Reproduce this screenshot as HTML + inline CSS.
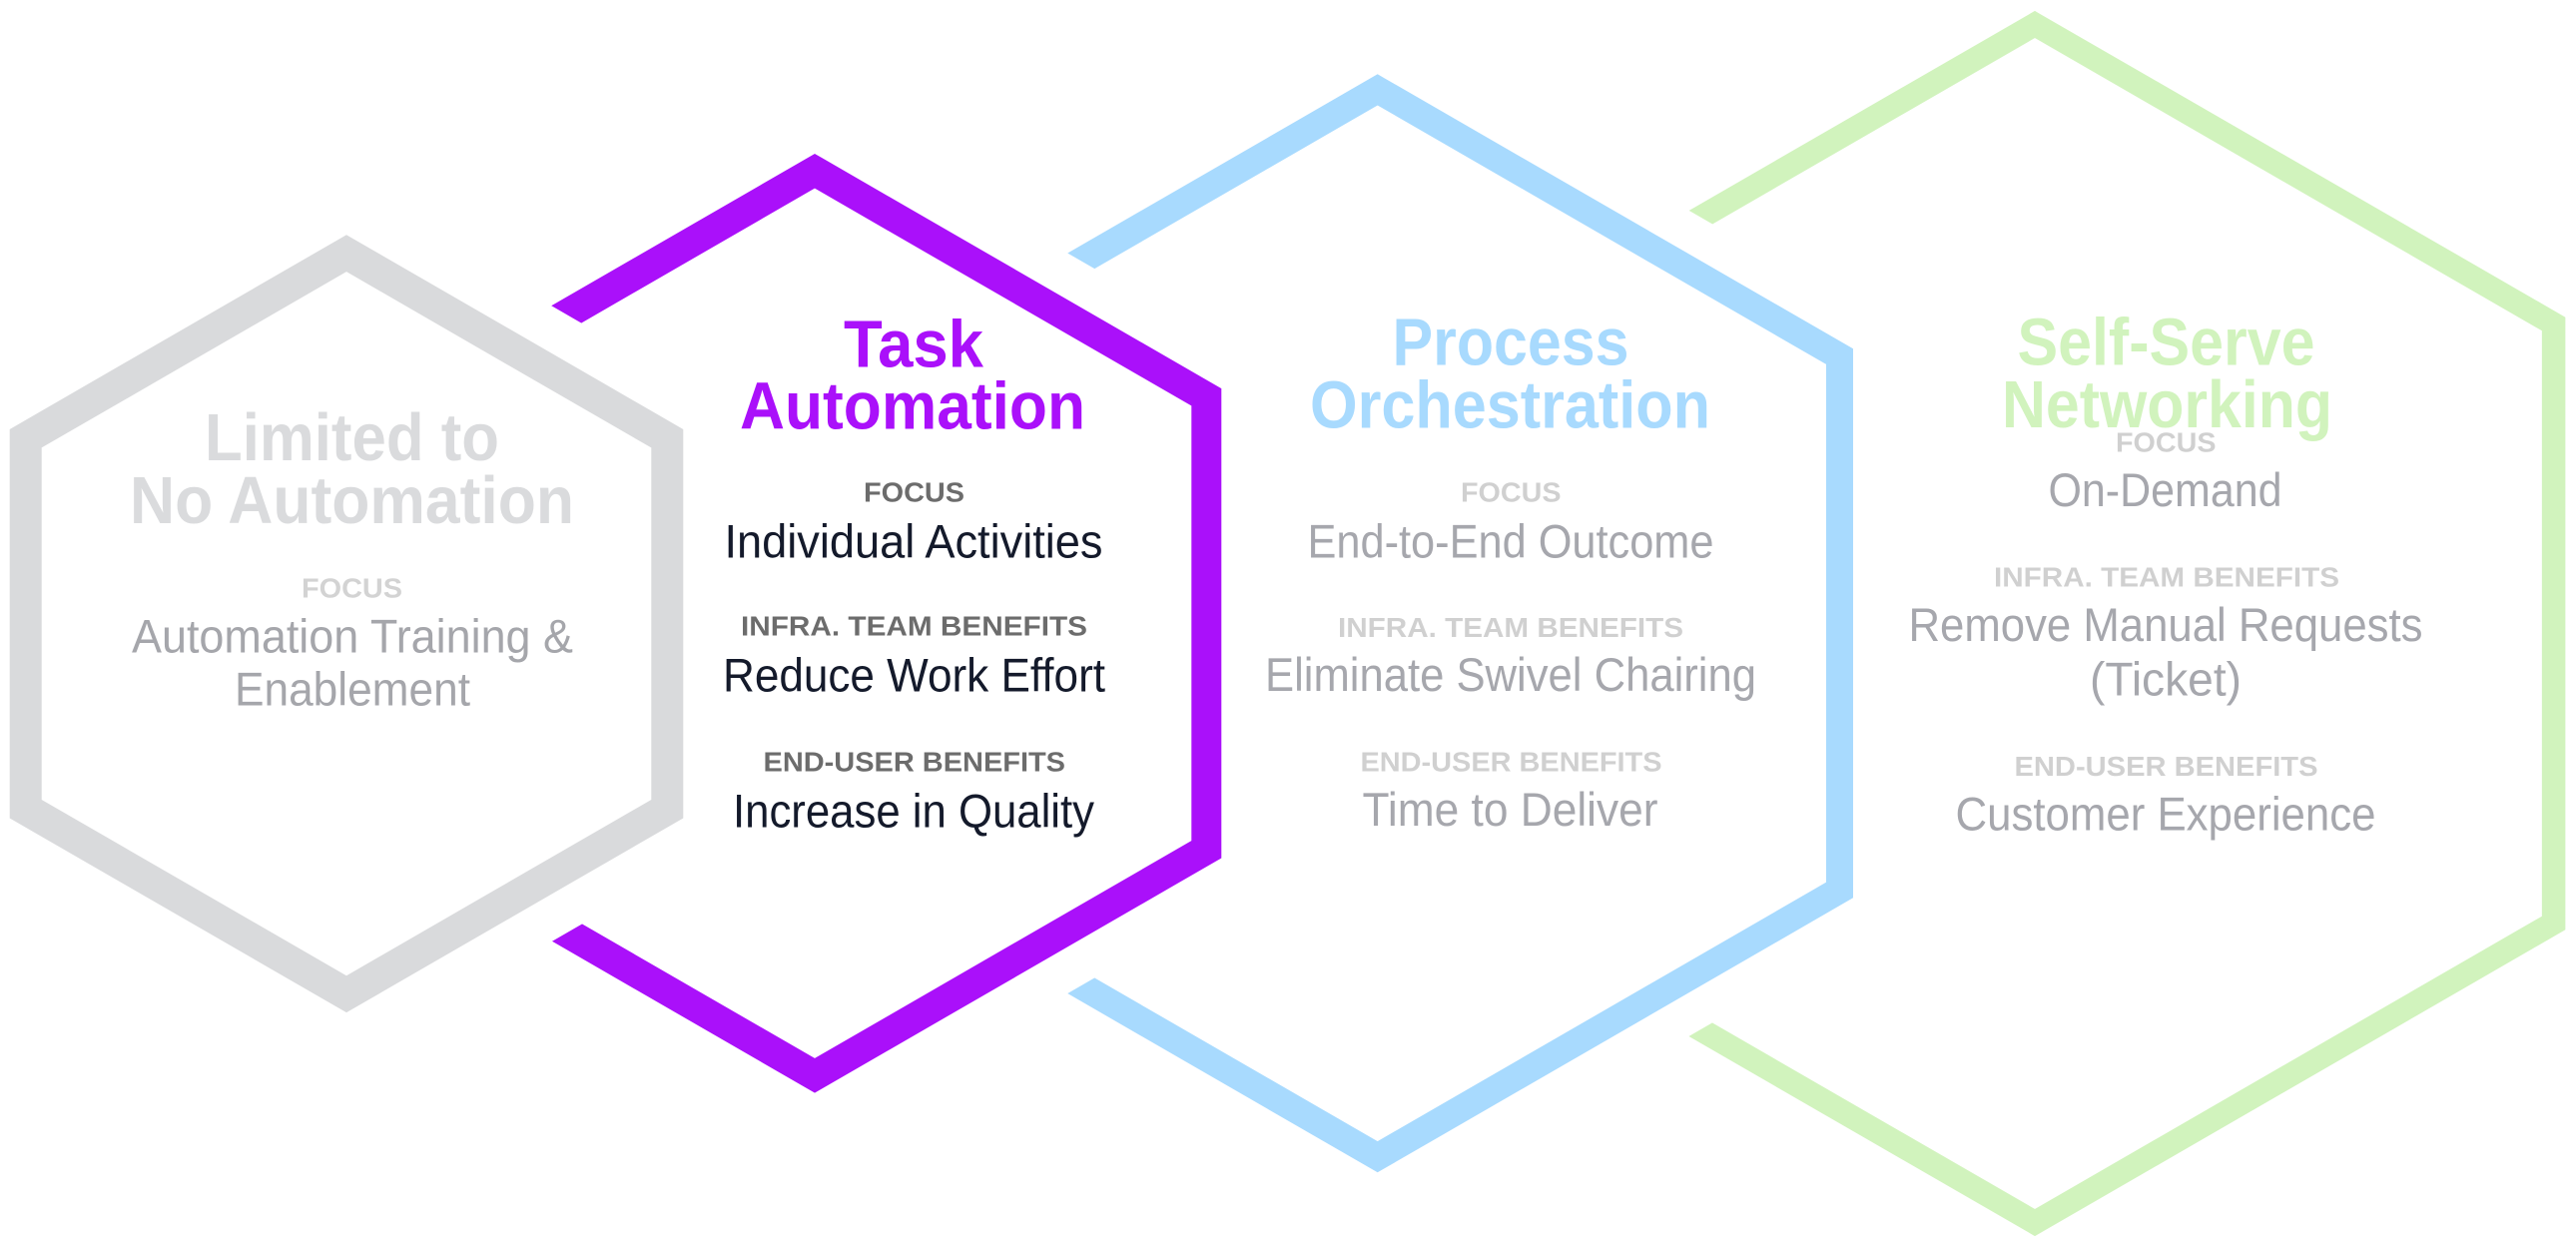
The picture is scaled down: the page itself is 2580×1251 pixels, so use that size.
<!DOCTYPE html>
<html>
<head>
<meta charset="utf-8">
<style>
  html, body { margin: 0; padding: 0; background: #ffffff; }
  body { width: 2580px; height: 1251px; overflow: hidden; }
  svg { display: block; }
  text { font-family: "Liberation Sans", Arial, sans-serif; }
  .t { font-size: 67px; font-weight: bold; }
  .l { font-size: 28px; font-weight: bold; }
  .b { font-size: 47px; font-weight: normal; }
</style>
</head>
<body>
<svg width="2580" height="1251" viewBox="0 0 2580 1251" xmlns="http://www.w3.org/2000/svg">
  <!-- Green hexagon (back) -->
  <polygon points="2038,24.5 2557.6,324.5 2557.6,924.5 2038,1224.5 1518.4,924.5 1518.4,324.5"
           fill="none" stroke="#d1f3bd" stroke-width="23.5" stroke-linejoin="miter"/>
  <!-- Blue knockout -->
  <polygon points="1379.7,30.8 1893.7,327.55 1893.7,921.05 1379.7,1218.3 865.7,921.05 865.7,327.55" fill="#ffffff"/>
  <!-- Blue hexagon -->
  <polygon points="1379.7,89.9 1842.5,357.1 1842.5,891.5 1379.7,1158.7 916.9,891.5 916.9,357.1"
           fill="none" stroke="#a8dafe" stroke-width="27" stroke-linejoin="miter"/>
  <!-- Purple knockout -->
  <polygon points="816,107.3 1263.7,365.8 1263.7,882.8 816,1141.3 368.3,882.8 368.3,365.8" fill="#ffffff"/>
  <!-- Purple hexagon -->
  <polygon points="816,171.3 1208.3,397.8 1208.3,850.8 816,1077.3 423.7,850.8 423.7,397.8"
           fill="none" stroke="#aa10fa" stroke-width="30" stroke-linejoin="miter"/>
  <!-- Gray knockout -->
  <polygon points="347,187.7 725.4,406.2 725.4,843.2 347,1061.7 -31.4,843.2 -31.4,406.2" fill="#ffffff"/>
  <!-- Gray hexagon -->
  <polygon points="347,253.7 668.3,439.2 668.3,810.2 347,995.7 25.7,810.2 25.7,439.2"
           fill="none" stroke="#d9dadc" stroke-width="32" stroke-linejoin="miter"/>

  <!-- Gray texts -->
  <text class="t" x="205" y="461" textLength="295" lengthAdjust="spacingAndGlyphs" fill="#dadbdd">Limited to</text>
  <text class="t" x="130" y="524" textLength="445" lengthAdjust="spacingAndGlyphs" fill="#dadbdd">No Automation</text>
  <text class="l" x="302" y="598.3" textLength="101" lengthAdjust="spacingAndGlyphs" fill="#d3d3d3">FOCUS</text>
  <text class="b" x="132" y="653.3" textLength="442" lengthAdjust="spacingAndGlyphs" fill="#a5a6ab">Automation Training &amp;</text>
  <text class="b" x="235" y="706.7" textLength="236" lengthAdjust="spacingAndGlyphs" fill="#a5a6ab">Enablement</text>

  <!-- Purple texts -->
  <text class="t" x="845" y="367.3" textLength="140" lengthAdjust="spacingAndGlyphs" fill="#aa10fa">Task</text>
  <text class="t" x="741" y="429.3" textLength="346" lengthAdjust="spacingAndGlyphs" fill="#aa10fa">Automation</text>
  <text class="l" x="865" y="502.3" textLength="101" lengthAdjust="spacingAndGlyphs" fill="#6c6c6c">FOCUS</text>
  <text class="b" x="725.5" y="558.3" textLength="379" lengthAdjust="spacingAndGlyphs" fill="#141a2b">Individual Activities</text>
  <text class="l" x="742" y="636.7" textLength="347" lengthAdjust="spacingAndGlyphs" fill="#6c6c6c">INFRA. TEAM BENEFITS</text>
  <text class="b" x="724" y="692.7" textLength="383" lengthAdjust="spacingAndGlyphs" fill="#141a2b">Reduce Work Effort</text>
  <text class="l" x="764.5" y="772.7" textLength="302.5" lengthAdjust="spacingAndGlyphs" fill="#6c6c6c">END-USER BENEFITS</text>
  <text class="b" x="734" y="828.3" textLength="362" lengthAdjust="spacingAndGlyphs" fill="#141a2b">Increase in Quality</text>

  <!-- Blue texts -->
  <text class="t" x="1394.5" y="365.6" textLength="237" lengthAdjust="spacingAndGlyphs" fill="#a8dafe">Process</text>
  <text class="t" x="1312" y="428.7" textLength="401" lengthAdjust="spacingAndGlyphs" fill="#a8dafe">Orchestration</text>
  <text class="l" x="1463" y="502.7" textLength="100.5" lengthAdjust="spacingAndGlyphs" fill="#d0d0d0">FOCUS</text>
  <text class="b" x="1309.5" y="558.5" textLength="407" lengthAdjust="spacingAndGlyphs" fill="#a6a7ad">End-to-End Outcome</text>
  <text class="l" x="1340" y="637.8" textLength="346" lengthAdjust="spacingAndGlyphs" fill="#d0d0d0">INFRA. TEAM BENEFITS</text>
  <text class="b" x="1267" y="691.8" textLength="492" lengthAdjust="spacingAndGlyphs" fill="#a6a7ad">Eliminate Swivel Chairing</text>
  <text class="l" x="1362.5" y="772.5" textLength="302" lengthAdjust="spacingAndGlyphs" fill="#d0d0d0">END-USER BENEFITS</text>
  <text class="b" x="1364.5" y="827.2" textLength="296" lengthAdjust="spacingAndGlyphs" fill="#a6a7ad">Time to Deliver</text>

  <!-- Green texts -->
  <text class="t" x="2020.5" y="365.6" textLength="298" lengthAdjust="spacingAndGlyphs" fill="#d1f3bd">Self-Serve</text>
  <text class="t" x="2005" y="428" textLength="331" lengthAdjust="spacingAndGlyphs" fill="#d1f3bd">Networking</text>
  <text class="l" x="2119" y="452.6" textLength="100.5" lengthAdjust="spacingAndGlyphs" fill="#d0d0d0">FOCUS</text>
  <text class="b" x="2051.5" y="507" textLength="234" lengthAdjust="spacingAndGlyphs" fill="#a6a7ad">On-Demand</text>
  <text class="l" x="1997" y="587.6" textLength="346" lengthAdjust="spacingAndGlyphs" fill="#d0d0d0">INFRA. TEAM BENEFITS</text>
  <text class="b" x="1911.5" y="642" textLength="515" lengthAdjust="spacingAndGlyphs" fill="#a6a7ad">Remove Manual Requests</text>
  <text class="b" x="2093" y="696.4" textLength="152" lengthAdjust="spacingAndGlyphs" fill="#a6a7ad">(Ticket)</text>
  <text class="l" x="2017.5" y="777" textLength="304" lengthAdjust="spacingAndGlyphs" fill="#d0d0d0">END-USER BENEFITS</text>
  <text class="b" x="1958.5" y="831.4" textLength="421" lengthAdjust="spacingAndGlyphs" fill="#a6a7ad">Customer Experience</text>
</svg>
</body>
</html>
